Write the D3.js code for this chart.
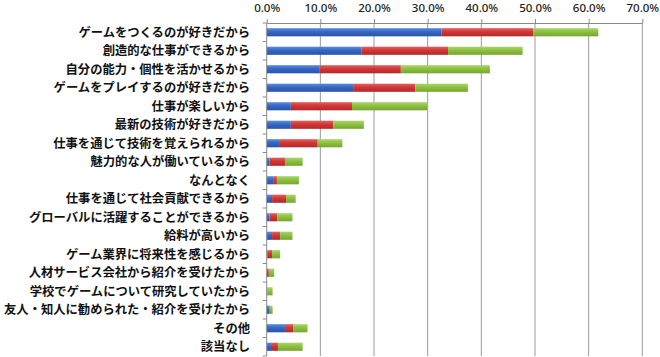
<!DOCTYPE html>
<html><head><meta charset="utf-8">
<script src="https://cdn.jsdelivr.net/npm/d3@7"></script>
<style>
html,body{margin:0;padding:0;background:#fff;}
svg{display:block;}
</style></head>
<body>
<svg id="chart" width="660" height="357"></svg>
<script>
const categories = [
  "ゲームをつくるのが好きだから",
  "創造的な仕事ができるから",
  "自分の能力・個性を活かせるから",
  "ゲームをプレイするのが好きだから",
  "仕事が楽しいから",
  "最新の技術が好きだから",
  "仕事を通じて技術を覚えられるから",
  "魅力的な人が働いているから",
  "なんとなく",
  "仕事を通じて社会貢献できるから",
  "グローバルに活躍することができるから",
  "給料が高いから",
  "ゲーム業界に将来性を感じるから",
  "人材サービス会社から紹介を受けたから",
  "学校でゲームについて研究していたから",
  "友人・知人に勧められた・紹介を受けたから",
  "その他",
  "該当なし"
];
const seriesBlue  = [32.6, 17.7, 9.9, 16.1, 4.5, 4.5, 2.3, 0.5, 1.2, 1.0, 0.5, 1.0, 0.1, 0.0, 0.0, 0.5, 3.4, 0.8];
const seriesRed   = [17.1, 16.1, 15.1, 11.6, 11.4, 7.9, 7.2, 2.9, 0.7, 2.6, 1.5, 1.5, 0.9, 0.4, 0.1, 0.1, 1.6, 1.3];
const seriesGreen = [12.1, 13.9, 16.6, 9.8, 14.0, 5.7, 4.6, 3.3, 4.1, 1.8, 2.8, 2.3, 1.5, 1.0, 1.0, 0.5, 2.6, 4.6];
const tickValues = [0, 10, 20, 30, 40, 50, 60, 70];
const seriesKeys = ["blue", "red", "green"];

(function () {
const rows = categories.map((c, i) => ({cat: c, blue: seriesBlue[i], red: seriesRed[i], green: seriesGreen[i]}));
const stacked = d3.stack().keys(seriesKeys)(rows);

const svg = d3.select("#chart");
const mLeft = 266.7, mRight = 642.3, mTop = 23, mBottom = 356;
const x = d3.scaleLinear().domain([0, 70]).range([mLeft, mRight]);
const y = d3.scaleBand().domain(categories).range([mTop, mBottom]).paddingInner(0.56).paddingOuter(0.28);

const colors = {blue: ["#5b8ee0", "#3566c2", "#2a54a8"], red: ["#e46060", "#d23535", "#b02a2a"], green: ["#aad66a", "#8dc03f", "#76a532"]};
const defs = svg.append("defs");
seriesKeys.forEach(k => {
  const g = defs.append("linearGradient").attr("id", "g-" + k).attr("x1", 0).attr("y1", 0).attr("x2", 0).attr("y2", 1);
  g.append("stop").attr("offset", "0%").attr("stop-color", colors[k][0]);
  g.append("stop").attr("offset", "45%").attr("stop-color", colors[k][1]);
  g.append("stop").attr("offset", "100%").attr("stop-color", colors[k][2]);
});

svg.append("g").selectAll("line").data(tickValues.slice(1)).join("line")
  .attr("x1", d => x(d)).attr("x2", d => x(d)).attr("y1", mTop).attr("y2", mBottom)
  .attr("stroke", "#9a9a9a").attr("stroke-width", 1);

const xAxis = d3.axisTop(x).tickValues(tickValues).tickFormat(d => d.toFixed(1) + "%").tickSize(4).tickSizeOuter(0);
const gx = svg.append("g").attr("transform", `translate(0,${mTop})`).call(xAxis);
gx.select(".domain").attr("stroke", "#8a8a8a");
gx.selectAll(".tick line").attr("stroke", "#8a8a8a");
gx.selectAll(".tick text").attr("fill", "#222").attr("font-family", "'Noto Sans', sans-serif").attr("font-weight", "500").attr("font-size", "11.5px").attr("y", -11);

svg.append("g").selectAll("g").data(stacked).join("g")
  .attr("fill", d => `url(#g-${d.key})`)
  .selectAll("rect").data(d => d).join("rect")
  .attr("x", d => x(d[0]))
  .attr("width", d => Math.max(0, x(d[1]) - x(d[0])))
  .attr("y", d => y(d.data.cat))
  .attr("height", y.bandwidth());

const step = y.step();
const gy = svg.append("g");
gy.append("line").attr("x1", mLeft).attr("x2", mLeft).attr("y1", mTop).attr("y2", mBottom).attr("stroke", "#8a8a8a");
gy.selectAll("line.t").data(d3.range(categories.length + 1)).join("line").attr("class", "t")
  .attr("x1", mLeft - 4).attr("x2", mLeft).attr("y1", i => mTop + i * step).attr("y2", i => mTop + i * step)
  .attr("stroke", "#8a8a8a");
gy.selectAll("text").data(categories).join("text")
  .attr("x", 250).attr("y", d => y(d) + y.bandwidth() / 2)
  .attr("dy", "0.38em")
  .attr("text-anchor", "end")
  .attr("font-family", "'Noto Sans CJK JP', sans-serif")
  .attr("font-weight", "bold")
  .attr("font-size", "12.3px")
  .attr("fill", "#111")
  .text(d => d);
})();
</script>
</body></html>
